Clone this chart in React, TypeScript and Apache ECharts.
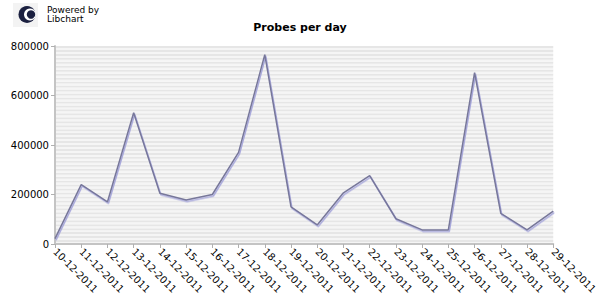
import React, { useEffect, useRef } from "react";
import * as echarts from "echarts";

const categories = [
  "10-12-2011", "11-12-2011", "12-12-2011", "13-12-2011", "14-12-2011",
  "15-12-2011", "16-12-2011", "17-12-2011", "18-12-2011", "19-12-2011",
  "20-12-2011", "21-12-2011", "22-12-2011", "23-12-2011", "24-12-2011",
  "25-12-2011", "26-12-2011", "27-12-2011", "28-12-2011", "29-12-2011",
];
const probes = [
  22000, 240000, 170000, 530000, 205000,
  178000, 200000, 370000, 765000, 150000,
  77000, 207000, 276000, 102000, 57000,
  57000, 692000, 124000, 57000, 133000,
];
const yMax = 800000;
const yInterval = 200000;
const stripeInterval = 8000;

const FONT = "DejaVu Sans";

export default function App() {
  const ref = useRef<HTMLDivElement>(null);
  useEffect(() => {
    if (!ref.current) return;
    const chart = echarts.init(ref.current, null, { renderer: "svg" });
    chart.setOption({
      animation: false,
      backgroundColor: "#ffffff",
      title: {
        text: "Probes per day",
        left: "center",
        top: 17,
        textStyle: { fontFamily: FONT, fontSize: 11, fontWeight: "bold", color: "#000" },
      },
      graphic: [
        { type: "rect", shape: { x: 13, y: 3, width: 25, height: 24 }, style: { fill: "#f3f3f3" } },
        { type: "circle", shape: { cx: 27, cy: 14.5, r: 8.5 }, style: { fill: "#1b2040" } },
        { type: "circle", shape: { cx: 30, cy: 14.5, r: 6 }, style: { fill: "#ffffff" } },
        { type: "circle", shape: { cx: 31, cy: 14.5, r: 4.2 }, style: { fill: "#1b2040" } },
        {
          type: "text", x: 47, y: 5,
          style: { text: "Powered by", fontFamily: FONT, fontSize: 9, fill: "#000", verticalAlign: "top", align: "left" },
        },
        {
          type: "text", x: 47, y: 14,
          style: { text: "Libchart", fontFamily: FONT, fontSize: 9, fill: "#000", verticalAlign: "top", align: "left" },
        },
      ],
      grid: { left: 55, right: 35, top: 46, bottom: 56 },
      xAxis: {
        type: "category",
        data: categories,
        boundaryGap: false,
        axisLine: { lineStyle: { color: "#c4c4c4", width: 2 } },
        axisTick: { show: true, length: 4, lineStyle: { color: "#b0b0b0" }, alignWithLabel: true },
        axisLabel: {
          rotate: -45,
          interval: 0,
          fontFamily: FONT,
          fontSize: 10,
          color: "#000",
          margin: 6,
        },
        splitLine: { show: false },
      },
      yAxis: [
        {
          type: "value",
          min: 0,
          max: yMax,
          interval: yInterval,
          axisLine: { show: true, lineStyle: { color: "#c4c4c4", width: 2 } },
          axisTick: { show: true, length: 4, lineStyle: { color: "#b0b0b0" } },
          axisLabel: {
            fontFamily: FONT, fontSize: 10, color: "#000", margin: 6,
            formatter: (v: number) => String(v),
          },
          splitLine: { show: false },
        },
        {
          type: "value",
          min: 0,
          max: yMax,
          interval: stripeInterval,
          position: "left",
          axisLine: { show: false },
          axisTick: { show: false },
          axisLabel: { show: false },
          splitLine: { show: false },
          splitArea: { show: true, areaStyle: { color: ["#f5f5f5", "#e6e6e6"] } },
          z: 0,
        },
      ],
      series: [
        {
          type: "line",
          data: probes,
          yAxisIndex: 0,
          symbol: "none",
          lineStyle: {
            color: "#77779a",
            width: 1.5,
            shadowColor: "#a8a8dc",
            shadowOffsetX: 1,
            shadowOffsetY: 1.5,
            shadowBlur: 0,
          },
          z: 5,
        },
      ],
    });
    return () => chart.dispose();
  }, []);
  return <div ref={ref} style={{ position: "fixed", left: 0, top: 0, width: 600, height: 300 }} />;
}
